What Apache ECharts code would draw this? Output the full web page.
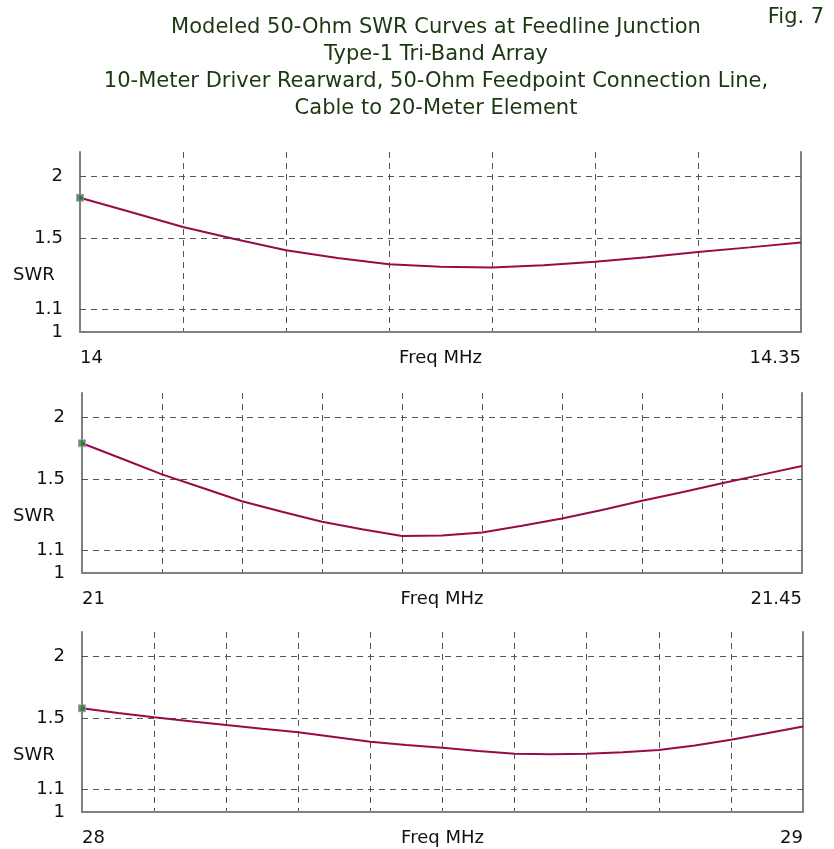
<!DOCTYPE html>
<html><head><meta charset="utf-8">
<script src="https://cdn.jsdelivr.net/npm/echarts@6/dist/echarts.min.js"></script>
<style>html,body{margin:0;padding:0;background:#fff}#c{width:834px;height:849px}</style>
</head><body><div id="c"></div>
<script>
// ---------- data ----------
const titleLines = [
  'Modeled 50-Ohm SWR Curves at Feedline Junction',
  'Type-1 Tri-Band Array',
  '10-Meter Driver Rearward, 50-Ohm Feedpoint Connection Line,',
  'Cable to 20-Meter Element'
];
const figLabel = 'Fig. 7';
const yAxisTitle = 'SWR';
const xAxisTitle = 'Freq MHz';
const yGridSWR = [1.1, 1.5, 2];
const yLabelSWR = [1, 1.1, 1.5, 2];

const freq20 = [14.000,14.025,14.050,14.075,14.100,14.125,14.150,14.175,14.200,14.225,14.250,14.275,14.300,14.325,14.350];
const swr20  = [1.806,1.688,1.579,1.497,1.424,1.376,1.339,1.325,1.320,1.333,1.353,1.381,1.413,1.442,1.473];
const xRange20 = [14, 14.35, 0.05];

const freq15 = [21.000,21.025,21.050,21.075,21.100,21.125,21.150,21.175,21.200,21.225,21.250,21.275,21.300,21.325,21.350,21.375,21.400,21.425,21.450];
const swr15  = [1.768,1.647,1.535,1.446,1.363,1.302,1.246,1.207,1.172,1.174,1.190,1.225,1.264,1.312,1.365,1.418,1.475,1.533,1.594];
const xRange15 = [21, 21.45, 0.05];

const freq10 = [28.00,28.05,28.10,28.15,28.20,28.25,28.30,28.35,28.40,28.45,28.50,28.55,28.60,28.65,28.70,28.75,28.80,28.85,28.90,28.95,29.00];
const swr10  = [1.570,1.538,1.508,1.482,1.457,1.433,1.411,1.382,1.354,1.335,1.319,1.300,1.284,1.282,1.284,1.293,1.306,1.331,1.365,1.405,1.447];
const xRange10 = [28, 29, 0.1];

// ---------- layout / style ----------
const panels = [
  {freq: freq20, swr: swr20, range: xRange20, left: 80, right: 33, top: 152},
  {freq: freq15, swr: swr15, range: xRange15, left: 82, right: 32, top: 393},
  {freq: freq10, swr: swr10, range: xRange10, left: 82, right: 31, top: 632}
];
const PH = 180, RHO_MAX = 0.385;
const FONT = '"DejaVu Sans", Verdana, sans-serif';
const toRho = s => (s - 1) / (s + 1);
const toSWR = r => (1 + r) / (1 - r);

const chart = echarts.init(document.getElementById('c'), null, {renderer: 'canvas'});
const grids = [], xAxes = [], yAxes = [], series = [], graphics = [];

titleLines.forEach((t, i) => {
  graphics.push({type: 'text', x: 436, y: 28 + i * 27,
    style: {text: t, font: '21px ' + FONT, fill: '#1c3812', textAlign: 'center', textVerticalAlign: 'middle'}});
});
graphics.push({type: 'text', x: 796, y: 18,
  style: {text: figLabel, font: '21px ' + FONT, fill: '#1c3812', textAlign: 'center', textVerticalAlign: 'middle'}});

panels.forEach((p, i) => {
  const width = 834 - p.left - p.right;
  grids.push({left: p.left, right: p.right, top: p.top, height: PH, containLabel: false, outerBoundsMode: 'none'});
  xAxes.push({
    type: 'value', gridIndex: i, min: p.range[0], max: p.range[1], interval: p.range[2],
    name: xAxisTitle, nameLocation: 'middle', nameGap: 17, nameMoveOverlap: false,
    nameTextStyle: {fontFamily: FONT, fontSize: 18, color: '#111', verticalAlign: 'top'},
    axisLine: {lineStyle: {color: '#808080', width: 2}},
    axisTick: {show: false},
    axisLabel: {customValues: [p.range[0], p.range[1]], alignMinLabel: 'left', alignMaxLabel: 'right',
      margin: 17, fontFamily: FONT, fontSize: 18, color: '#111',
      formatter: v => String(+v.toFixed(2))},
    splitLine: {show: true, lineStyle: {color: '#555', type: [6, 5], width: 1}}
  });
  yAxes.push({
    type: 'value', gridIndex: i, min: 0, max: RHO_MAX, position: 'left',
    axisLine: {show: true, lineStyle: {color: '#808080', width: 2}},
    axisTick: {show: true, inside: true, length: width, customValues: yGridSWR.map(toRho),
      lineStyle: {color: '#555', type: [6, 5], width: 1}},
    axisLabel: {customValues: yLabelSWR.map(toRho), margin: 17, fontFamily: FONT, fontSize: 18, color: '#111',
      formatter: v => String(Math.round(toSWR(v) * 10) / 10)},
    splitLine: {show: false}
  });
  yAxes.push({
    type: 'value', gridIndex: i, min: 0, max: RHO_MAX, position: 'right',
    axisLine: {show: true, lineStyle: {color: '#808080', width: 2}},
    axisTick: {show: false}, axisLabel: {show: false}, splitLine: {show: false}
  });
  series.push({
    type: 'line', xAxisIndex: i, yAxisIndex: 2 * i, showSymbol: false, silent: true,
    lineStyle: {color: '#990a4a', width: 2}, z: 3,
    data: p.freq.map((f, k) => [f, toRho(p.swr[k])])
  });
  series.push({
    type: 'scatter', xAxisIndex: i, yAxisIndex: 2 * i, symbol: 'rect', symbolSize: 7, z: 4,
    itemStyle: {color: '#0f8f1a', borderColor: '#e070e0', borderWidth: 1},
    data: [[p.freq[0], toRho(p.swr[0])]]
  });
  graphics.push({type: 'text', x: 13, y: p.top + PH - 57,
    style: {text: yAxisTitle, font: '18px ' + FONT, fill: '#111', textAlign: 'left', textVerticalAlign: 'middle'}});
});

chart.setOption({
  animation: false,
  backgroundColor: '#fff',
  grid: grids, xAxis: xAxes, yAxis: yAxes, series: series, graphic: graphics
});
</script></body></html>
